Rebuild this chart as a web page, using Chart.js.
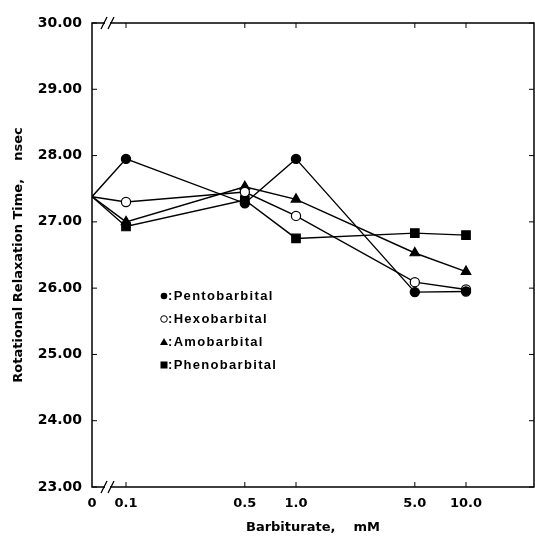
<!DOCTYPE html>
<html>
<head>
<meta charset="utf-8">
<script src="https://cdn.jsdelivr.net/npm/chart.js@4"></script>
<style>
  html, body { margin: 0; padding: 0; background: #fff; }
  canvas { display: block; }
</style>
</head>
<body>
<canvas id="chart" width="535" height="546"></canvas>
<script>
// Barbiturate concentration (mM) and tick labels
const doses = [0, 0.1, 0.5, 1, 5, 10];
const xLabels = ['0', '0.1', '0.5', '1.0', '5.0', '10.0'];
const yTicks = [23, 24, 25, 26, 27, 28, 29, 30];

// Rotational relaxation time (nsec)
const pento = [27.38, 27.95, 27.28, 27.95, 25.94, 25.95];
const hexo  = [27.38, 27.30, 27.45, 27.09, 26.09, 25.98];
const amo   = [27.38, 27.00, 27.53, 27.34, 26.53, 26.25];
const pheno = [27.38, 26.93, 27.33, 26.75, 26.83, 26.80];

// log axis with a break: dose 0 sits on the left edge
const X_MIN = Math.pow(10, -1.2);
const X_MAX = Math.pow(10, 1.4);
const plotX = d => (d === 0 ? X_MIN : d);

const FONT = '"Liberation Sans", Arial, sans-serif';
const WIDE = '"DejaVu Sans", sans-serif';
const MARK_SIZE = { circle: 4.6, triangle: 5.5, rect: 6 };

function series(label, values, style, fill) {
    return {
        label: label,
        data: doses.map((d, i) => ({ x: plotX(d), y: values[i] })),
        borderColor: '#000',
        borderWidth: 1.4,
        tension: 0,
        pointStyle: style,
        pointRadius: doses.map(d => (d === 0 ? 0 : MARK_SIZE[style])),
        pointBackgroundColor: fill,
        pointBorderColor: '#000',
        pointBorderWidth: 1.2
    };
}

// Frame, inward ticks, axis breaks and the in-plot key
const framePlugin = {
    id: 'frame',
    afterDatasetsDraw(chart) {
        const ctx = chart.ctx;
        const a = chart.chartArea;
        const xs = chart.scales.x, ys = chart.scales.y;
        ctx.save();
        ctx.strokeStyle = '#000';
        ctx.lineWidth = 1.5;
        ctx.strokeRect(a.left, a.top, a.right - a.left, a.bottom - a.top);

        ctx.lineWidth = 1;
        ctx.beginPath();
        yTicks.forEach(v => {
            const y = ys.getPixelForValue(v);
            ctx.moveTo(a.left, y); ctx.lineTo(a.left + 5, y);
            ctx.moveTo(a.right, y); ctx.lineTo(a.right - 5, y);
        });
        doses.slice(1).forEach(d => {
            const x = xs.getPixelForValue(d);
            ctx.moveTo(x, a.top); ctx.lineTo(x, a.top + 5);
            ctx.moveTo(x, a.bottom); ctx.lineTo(x, a.bottom - 5);
        });
        ctx.stroke();

        // axis break marks
        [a.top, a.bottom].forEach(y => {
            const x0 = a.left + 12;
            ctx.fillStyle = '#fff';
            ctx.fillRect(x0 + 1, y - 2, 5, 4);
            ctx.strokeStyle = '#000';
            ctx.lineWidth = 1.3;
            ctx.beginPath();
            ctx.moveTo(x0 - 3, y + 6); ctx.lineTo(x0 + 3, y - 6);
            ctx.moveTo(x0 + 4, y + 6); ctx.lineTo(x0 + 10, y - 6);
            ctx.stroke();
        });

        // key
        const names = chart.data.datasets.map(ds => ds.label);
        const kx = a.left + 72, ky = a.top + 273, step = 23;
        ctx.font = 'bold 13px ' + FONT;
        ctx.letterSpacing = '1.3px';
        ctx.textBaseline = 'middle';
        ctx.fillStyle = '#000';
        names.forEach((n, i) => {
            const y = ky + i * step;
            ctx.beginPath();
            ctx.lineWidth = 1;
            if (i === 0) { ctx.arc(kx, y, 3.3, 0, Math.PI * 2); ctx.fill(); }
            if (i === 1) { ctx.arc(kx, y, 3.3, 0, Math.PI * 2); ctx.stroke(); }
            if (i === 2) { ctx.moveTo(kx, y - 4); ctx.lineTo(kx + 4, y + 3); ctx.lineTo(kx - 4, y + 3); ctx.closePath(); ctx.fill(); }
            if (i === 3) { ctx.fillRect(kx - 3.5, y - 3.5, 7, 7); }
            ctx.fillText(':' + n, kx + 4, y);
        });
        ctx.restore();
    }
};

new Chart(document.getElementById('chart'), {
    type: 'line',
    data: {
        datasets: [
            series('Pentobarbital', pento, 'circle', '#000'),
            series('Hexobarbital', hexo, 'circle', '#fff'),
            series('Amobarbital', amo, 'triangle', '#000'),
            series('Phenobarbital', pheno, 'rect', '#000')
        ]
    },
    options: {
        responsive: false,
        animation: false,
        devicePixelRatio: 1,
        layout: { autoPadding: false, padding: { top: 23, right: 1, left: 0, bottom: 0 } },
        plugins: { legend: { display: false }, tooltip: { enabled: false } },
        scales: {
            x: {
                type: 'logarithmic',
                min: X_MIN,
                max: X_MAX,
                afterBuildTicks: scale => {
                    scale.ticks = doses.map(d => ({ value: plotX(d) }));
                },
                afterFit: scale => {
                    scale.height = 59;
                    scale.paddingLeft = 0;
                    scale.paddingRight = 0;
                },
                grid: { display: false, drawTicks: false },
                border: { display: false },
                ticks: {
                    autoSkip: false,
                    maxRotation: 0,
                    padding: 9,
                    color: '#000',
                    font: { family: WIDE, size: 13, weight: 'bold' },
                    callback: (v, i) => xLabels[i]
                },
                title: {
                    display: true,
                    text: 'Barbiturate,    mM',
                    color: '#000',
                    font: { family: WIDE, size: 13, weight: 'bold' },
                    padding: { top: 0, bottom: 11 }
                }
            },
            y: {
                min: 23,
                max: 30,
                afterBuildTicks: scale => {
                    scale.ticks = yTicks.map(v => ({ value: v }));
                },
                afterFit: scale => { scale.width = 92; },
                grid: { display: false, drawTicks: false },
                border: { display: false },
                ticks: {
                    padding: 10,
                    color: '#000',
                    font: { family: WIDE, size: 14, weight: 'bold' },
                    callback: v => v.toFixed(2)
                },
                title: {
                    display: true,
                    text: 'Rotational Relaxation Time,    nsec',
                    color: '#000',
                    font: { family: WIDE, size: 13, weight: 'bold' },
                    padding: { top: 11, bottom: 0 }
                }
            }
        }
    },
    plugins: [framePlugin]
});
</script>
</body>
</html>
